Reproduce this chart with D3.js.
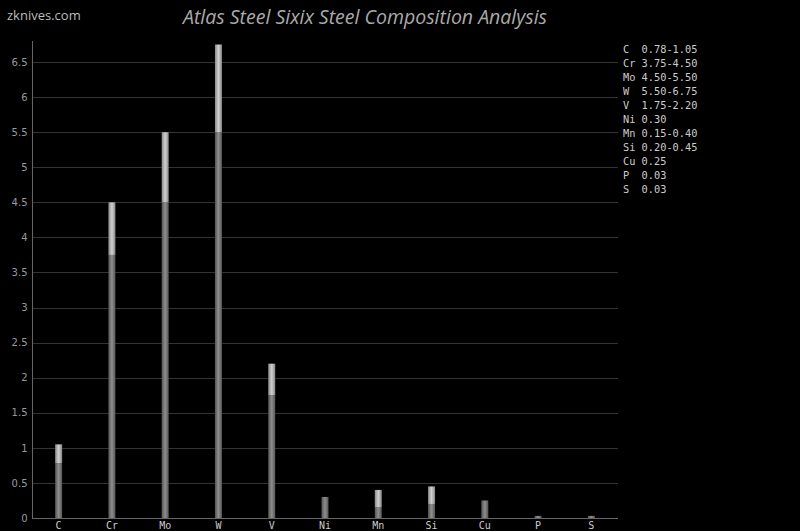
<!DOCTYPE html>
<html><head><meta charset="utf-8">
<script src="https://cdn.jsdelivr.net/npm/d3@7"></script>
<style>body{margin:0;background:#000;}svg{display:block;}</style>
</head><body>
<script>
const categories = ["C","Cr","Mo","W","V","Ni","Mn","Si","Cu","P","S"];
const minValues = [0.78,3.75,4.50,5.50,1.75,0.30,0.15,0.20,0.25,0.03,0.03];
const maxValues = [1.05,4.50,5.50,6.75,2.20,0.30,0.40,0.45,0.25,0.03,0.03];
const legendLabels = ["C  0.78-1.05","Cr 3.75-4.50","Mo 4.50-5.50","W  5.50-6.75","V  1.75-2.20","Ni 0.30","Mn 0.15-0.40","Si 0.20-0.45","Cu 0.25","P  0.03","S  0.03"];
const yTicks = [0,0.5,1,1.5,2,2.5,3,3.5,4,4.5,5,5.5,6,6.5];
const title = "Atlas Steel Sixix Steel Composition Analysis";
const siteLabel = "zknives.com";

const W = 800, H = 531;
const svg = d3.select("body").append("svg").attr("width", W).attr("height", H).style("background","#000");
const defs = svg.append("defs");
function grad(id, edge, mid){
  const g = defs.append("linearGradient").attr("id", id).attr("x1","0").attr("x2","1").attr("y1","0").attr("y2","0");
  g.append("stop").attr("offset","0%").attr("stop-color", edge);
  g.append("stop").attr("offset","50%").attr("stop-color", mid);
  g.append("stop").attr("offset","100%").attr("stop-color", edge);
}
grad("gDark", "#555", "#8e8e8e");
grad("gLight", "#888", "#d0d0d0");

const x0 = 32, x1 = 618, yBottom = 518, yTop = 41;
const x = d3.scaleBand().domain(categories).range([x0, x1]);
const y = d3.scaleLinear().domain([0, 6.8]).range([yBottom, yTop]);

// grid
svg.append("g").selectAll("line").data(yTicks.filter(t => t > 0)).join("line")
  .attr("x1", x0).attr("x2", x1).attr("y1", d => Math.round(y(d)) + 0.5).attr("y2", d => Math.round(y(d)) + 0.5)
  .attr("stroke", "#333").attr("stroke-width", 1);

// y axis
const yAxis = svg.append("g").attr("transform", `translate(${x0 + 0.5},0)`)
  .call(d3.axisLeft(y).tickValues(yTicks).tickSize(0).tickPadding(5).tickFormat(d3.format("")));
yAxis.select(".domain").attr("stroke", "#666").attr("d", `M0,${yTop}V${yBottom}`);
yAxis.selectAll("text").attr("fill", "#999").style("font-family", "DejaVu Sans, sans-serif").style("font-size", "10px");

// x axis
const xAxis = svg.append("g").attr("transform", `translate(0,${yBottom + 0.5})`)
  .call(d3.axisBottom(x).tickSize(0).tickPadding(3));
xAxis.select(".domain").attr("stroke", "#666").attr("d", `M${x0},0H${x1}`);
xAxis.selectAll("text").attr("fill", "#ccc").style("font-family", "DejaVu Sans Mono, monospace").style("font-size", "10px");

// bars
const bw = 7;
const data = categories.map((c, i) => ({c, min: minValues[i], max: maxValues[i]}));
const bars = svg.append("g");
bars.selectAll("rect.dark").data(data).join("rect").attr("class","dark")
  .attr("x", d => x(d.c) + x.bandwidth()/2 - bw/2).attr("width", bw)
  .attr("y", d => y(d.min)).attr("height", d => y(0) - y(d.min))
  .attr("fill", "url(#gDark)");
bars.selectAll("rect.light").data(data.filter(d => d.max > d.min)).join("rect").attr("class","light")
  .attr("x", d => x(d.c) + x.bandwidth()/2 - bw/2).attr("width", bw)
  .attr("y", d => y(d.max)).attr("height", d => y(d.min) - y(d.max))
  .attr("fill", "url(#gLight)");

// legend
svg.append("g").selectAll("text").data(legendLabels).join("text")
  .attr("x", 623).attr("y", (d, i) => 53 + i * 14)
  .attr("fill", "#ccc").style("font-family", "DejaVu Sans Mono, monospace").style("font-size", "10.3px")
  .style("white-space", "pre").attr("xml:space", "preserve")
  .text(d => d);

// title
svg.append("text").attr("x", 365).attr("y", 24).attr("text-anchor", "middle")
  .attr("fill", "#aaa").style("font-family", "Open Sans, sans-serif").style("font-style", "italic").style("font-size", "19.5px")
  .text(title);

svg.append("text").attr("x", 7).attr("y", 20)
  .attr("fill", "#bbb").style("font-family", "Open Sans, sans-serif").style("font-size", "13px")
  .text(siteLabel);
</script>
</body></html>
